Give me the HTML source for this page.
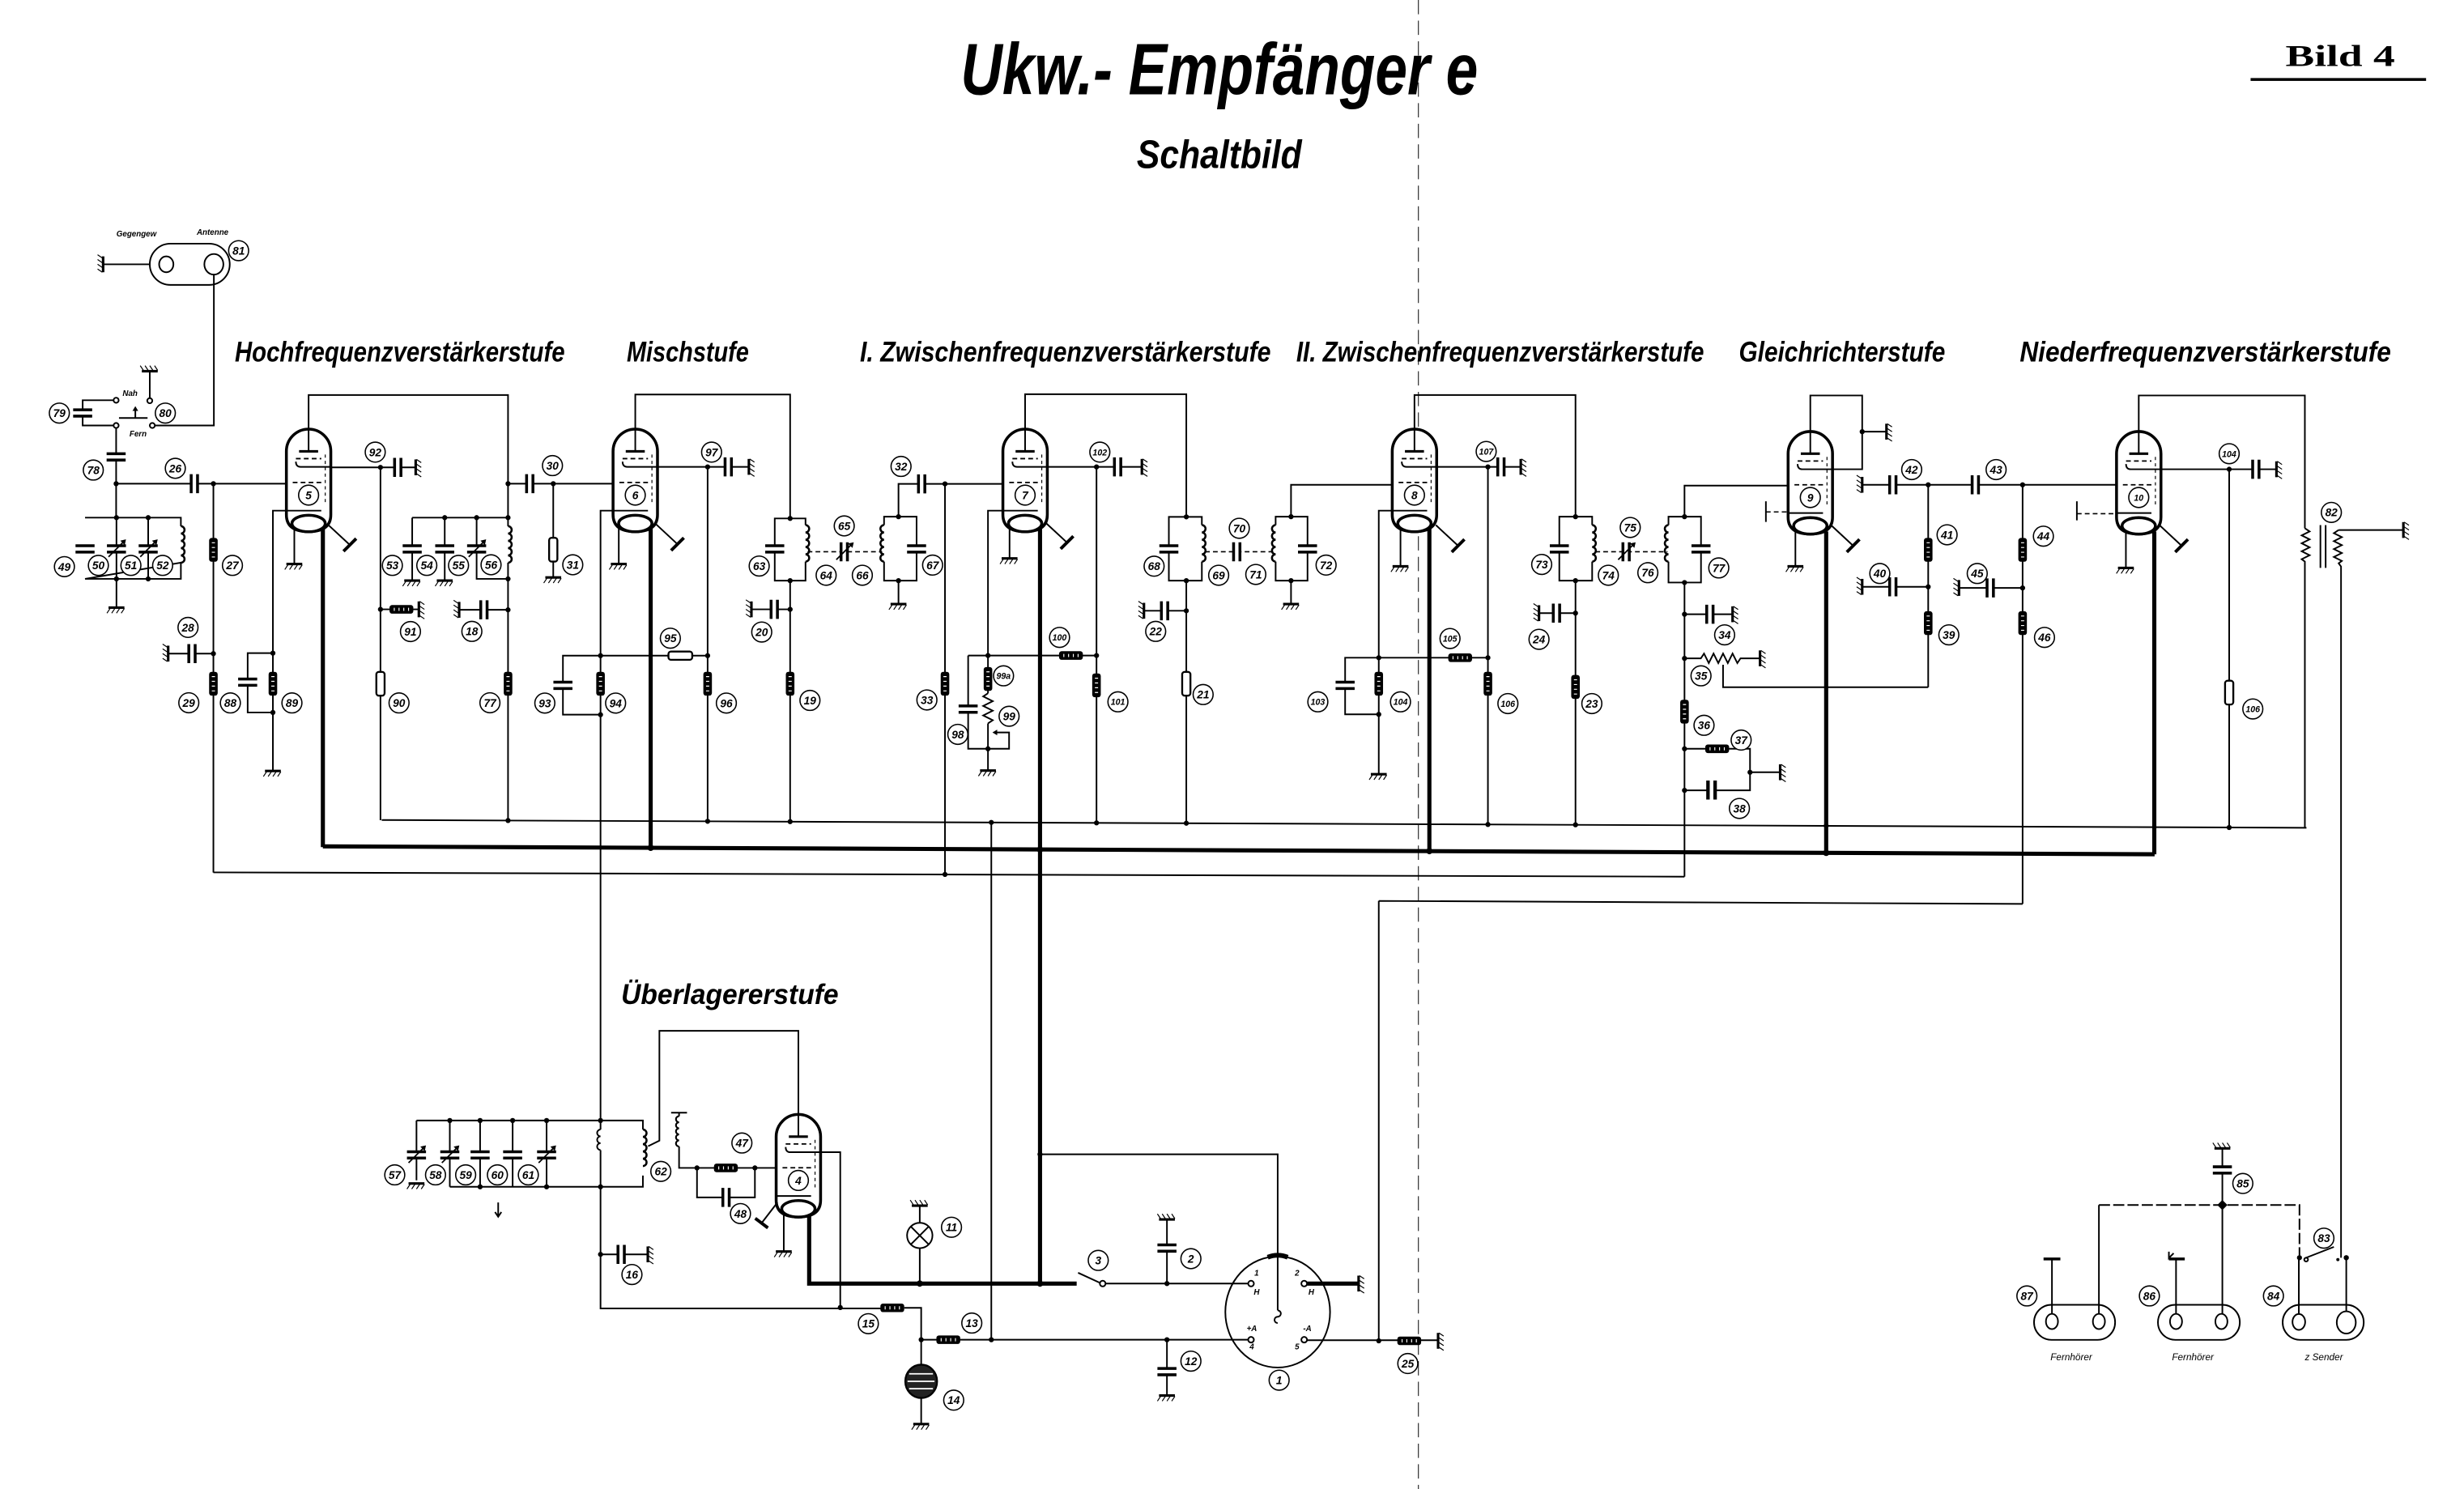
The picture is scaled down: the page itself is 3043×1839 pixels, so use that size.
<!DOCTYPE html>
<html><head><meta charset="utf-8"><title>Ukw.-Empfänger e – Schaltbild</title>
<style>
html,body{margin:0;padding:0;background:#fff;overflow:hidden}
svg{display:block}
.w{fill:none;stroke:#000;stroke-width:1}
.t{fill:none;stroke:#000;stroke-width:2.6}
.o{fill:none;stroke:#000;stroke-width:1.6}
.d{fill:none;stroke:#000;stroke-width:0.8;stroke-dasharray:3 2}
.lc{fill:#fff;stroke:#000;stroke-width:0.8}
.n{font-family:"Liberation Sans",sans-serif;font-style:italic;font-weight:bold;font-size:7px;text-anchor:middle}
.n3{font-family:"Liberation Sans",sans-serif;font-style:italic;font-weight:bold;font-size:5.4px;text-anchor:middle}
.h{font-family:"Liberation Sans Narrow","Liberation Sans",sans-serif;font-style:italic;font-weight:bold;font-size:18px}
.s{font-family:"Liberation Sans",sans-serif;font-style:italic;font-weight:bold;font-size:5px;text-anchor:middle}
.f{font-family:"Liberation Sans",sans-serif;font-style:italic;font-size:6px;text-anchor:middle}
</style></head><body>
<svg width="3043" height="1839" viewBox="0 0 1553 938.6" preserveAspectRatio="none">
<defs>
<g id="gd"><line x1="-5" y1="0" x2="5" y2="0" stroke="#000" stroke-width="1.6"/><path d="M-4,0.5 l-2,3 M-1,0.5 l-2,3 M2,0.5 l-2,3 M5,0.5 l-2,3" stroke="#000" stroke-width="0.6" fill="none"/></g>
<g id="rv"><rect x="-2.7" y="-7.5" width="5.4" height="15" rx="1.6" fill="#000"/><path d="M-1,-4.5 h2 M-1,-1.5 h2 M-1,1.5 h2 M-1,4.5 h2" stroke="#fff" stroke-width="0.6"/></g>
<g id="ro"><rect x="-2.6" y="-7.5" width="5.2" height="15" rx="1.6" fill="#fff" stroke="#000" stroke-width="1.2"/></g>
<g id="rh"><rect x="-7.5" y="-2.7" width="15" height="5.4" rx="1.6" fill="#000"/><path d="M-4.5,-1 v2 M-1.5,-1 v2 M1.5,-1 v2 M4.5,-1 v2" stroke="#fff" stroke-width="0.6"/></g>
<g id="cv"><rect x="-6" y="-2.3" width="12" height="4.6" fill="#fff"/><path d="M-6,-2 h12 M-6,2 h12" stroke="#000" stroke-width="1.8"/></g>
<g id="ch"><rect x="-2.3" y="-6" width="4.6" height="12" fill="#fff"/><path d="M-2,-6 v12 M2,-6 v12" stroke="#000" stroke-width="1.8"/></g>
<g id="va"><path d="M-5,5 L5,-5" stroke="#000" stroke-width="0.9"/><path d="M6,-6 l-3.6,0.8 l2.8,2.8z" fill="#000"/></g>
<path id="cr" d="M0,0 a2.3,2.3 0 0 1 0,4.6 a2.3,2.3 0 0 1 0,4.6 a2.3,2.3 0 0 1 0,4.6 a2.3,2.3 0 0 1 0,4.6 a2.3,2.3 0 0 1 0,4.6" fill="none" stroke="#000" stroke-width="1.3"/>
<g id="tube">
 <path d="M-14,14 A14,14 0 0 1 14,14 V54 Q14,64.6 0,64.6 Q-14,64.6 -14,54 Z" fill="#fff" stroke="#000" stroke-width="1.8"/>
 <line x1="0" y1="0" x2="0" y2="14" stroke="#000" stroke-width="1"/>
 <line x1="-6" y1="14" x2="6" y2="14" stroke="#000" stroke-width="1.6"/>
 <line x1="-8" y1="18.6" x2="8" y2="18.6" stroke="#000" stroke-width="0.9" stroke-dasharray="3 2"/>
 <path d="M-8,20.5 Q-8,23.8 -5,23.8 H14" fill="none" stroke="#000" stroke-width="1"/>
 <line x1="-10" y1="33.6" x2="10" y2="33.6" stroke="#000" stroke-width="0.9" stroke-dasharray="3 2"/>
 <line x1="10.5" y1="16" x2="10.5" y2="48" stroke="#000" stroke-width="0.6" stroke-dasharray="2 2"/>
 <circle cx="0" cy="41.6" r="6.3" fill="#fff" stroke="#000" stroke-width="0.8"/>
 <line x1="-14" y1="51.4" x2="8" y2="51.4" stroke="#000" stroke-width="1"/>
 <ellipse cx="0" cy="59.5" rx="10.5" ry="5.2" fill="#fff" stroke="#000" stroke-width="1.8"/>
</g>
<g id="sh"><line x1="0" y1="0" x2="14" y2="13" stroke="#000" stroke-width="1"/><line x1="10" y1="17" x2="18" y2="9" stroke="#000" stroke-width="2"/></g>
</defs>

<!-- fold line -->
<line x1="894" y1="0" x2="894" y2="938.6" stroke="#000" stroke-width="0.5" stroke-dasharray="9 4"/>

<!-- Titles -->
<text x="768.5" y="59.5" font-family="Liberation Sans Narrow, Liberation Sans, sans-serif" font-style="italic" font-weight="bold" font-size="46" text-anchor="middle" textLength="326" lengthAdjust="spacingAndGlyphs">Ukw.- Empfänger e</text>
<text x="768.5" y="106" font-family="Liberation Sans Narrow, Liberation Sans, sans-serif" font-style="italic" font-weight="bold" font-size="25" text-anchor="middle" textLength="104" lengthAdjust="spacingAndGlyphs">Schaltbild</text>
<text x="1475" y="41.7" font-family="Liberation Serif, serif" font-weight="bold" font-size="19" text-anchor="middle" textLength="69" lengthAdjust="spacingAndGlyphs">Bild 4</text>
<rect x="1418.5" y="49.2" width="110.6" height="1.8" fill="#000"/>

<!-- stage headings -->
<text class="h" x="148" y="228" textLength="208" lengthAdjust="spacingAndGlyphs">Hochfrequenzverstärkerstufe</text>
<text class="h" x="395" y="228" textLength="77" lengthAdjust="spacingAndGlyphs">Mischstufe</text>
<text class="h" x="542" y="228" textLength="259" lengthAdjust="spacingAndGlyphs">I. Zwischenfrequenzverstärkerstufe</text>
<text class="h" x="817" y="228" textLength="257" lengthAdjust="spacingAndGlyphs">II. Zwischenfrequenzverstärkerstufe</text>
<text class="h" x="1096" y="228" textLength="130" lengthAdjust="spacingAndGlyphs">Gleichrichterstufe</text>
<text class="h" x="1273" y="228" textLength="234" lengthAdjust="spacingAndGlyphs">Niederfrequenzverstärkerstufe</text>
<text class="h" x="391.5" y="633" textLength="137" lengthAdjust="spacingAndGlyphs">Überlagererstufe</text>

<!-- ================= Antenna ================= -->
<rect x="94.4" y="153.6" width="50.4" height="26" rx="13" class="w" stroke-width="1.2"/>
<ellipse cx="104.8" cy="166.6" rx="4.5" ry="5" class="w" stroke-width="1.1"/>
<ellipse cx="134.8" cy="166.6" rx="6" ry="6.5" class="w" stroke-width="1.1"/>
<path class="w" d="M65,166.6 H94.4 M134.8,173.1 V268.2 H97.6"/>
<use href="#gd" transform="translate(65,166.6) rotate(90)"/>
<text class="s" x="86" y="149">Gegengew</text>
<text class="s" x="134" y="148">Antenne</text>
<!-- switch 80 / cap 79 -->
<path class="w" d="M94.4,234 V251"/>
<use href="#gd" transform="translate(94.4,234) scale(1,-1)"/>
<circle cx="73.2" cy="252.3" r="1.6" class="w"/><circle cx="94.4" cy="252.6" r="1.6" class="w"/>
<circle cx="73.2" cy="268.2" r="1.6" class="w"/><circle cx="96" cy="268.2" r="1.6" class="w"/>
<path class="w" d="M75,263.5 H93 M85.3,263.5 V258"/><path d="M85.3,256 l-1.8,3 h3.6z" fill="#000"/>
<path class="w" d="M71.6,252.3 H52.1 V268.2 H71.6"/>
<use href="#cv" x="52.1" y="260.3"/>
<text class="s" x="82" y="249.5">Nah</text>
<text class="s" x="87" y="275">Fern</text>
<!-- cap 78 and grid line -->
<path class="w" d="M73.2,269.8 V326.3 M73.2,304.9 H180.5"/>
<use href="#cv" x="73.2" y="288"/>
<use href="#ch" x="122.5" y="304.9"/>
<!-- tank 49-52 -->
<path class="w" d="M53.6,326.3 H114 V331.7 M114,354.7 V364.9 H53.6 Z M73.4,326.3 V383 M93.4,326.3 V364.9"/>
<use href="#cr" x="114" y="331.7"/>
<use href="#cv" x="53.6" y="346"/>
<use href="#cv" x="73.4" y="346"/><use href="#va" x="73.4" y="346"/>
<use href="#cv" x="93.4" y="346"/><use href="#va" x="93.4" y="346"/>
<use href="#gd" x="73.4" y="383"/>
<!-- 27/28/29 -->
<path class="w" d="M134.5,304.9 V550 M134.5,412 H106"/>
<use href="#rv" x="134.5" y="346.6"/>
<use href="#ch" x="121" y="412"/>
<use href="#gd" transform="translate(106,412) rotate(90)"/>
<use href="#rv" x="134.5" y="431"/>

<!-- ================= Tube 5 ================= -->
<path class="w" d="M194.5,270.5 V249 H320.2 V331.7 M320.2,354.7 V517.2"/>
<use href="#cr" x="320.2" y="331.7"/>
<path class="w" d="M208.5,294.6 H262 M239.8,294.6 V517 M239.8,384.1 H264"/>
<use href="#ch" x="250.7" y="294.6"/>
<use href="#gd" transform="translate(262,294.6) rotate(-90)"/>
<use href="#rh" transform="translate(253,384.1)"/>
<use href="#gd" transform="translate(264,384.1) rotate(-90)"/>
<use href="#ro" x="239.8" y="431"/>
<path class="w" d="M180.5,321.9 H172 V486 M172,411.7 H156.1 V449.1 H172"/>
<use href="#cv" x="156.1" y="430"/>
<use href="#rv" x="172" y="431"/>
<use href="#gd" x="172" y="486"/>
<path class="w" d="M185.5,333 V355.5"/><use href="#gd" x="185.5" y="355.5"/>
<path class="t" d="M203.5,333 V534"/>
<use href="#tube" x="194.5" y="270.5"/>
<use href="#sh" x="206.5" y="330.5"/>
<!-- HF plate tank 53-56 -->
<path class="w" d="M259.8,326.3 H320.2 M259.8,326.3 V366 M280.3,326.3 V366 M300.4,326.3 V364.9 H320.2"/>
<use href="#cv" x="259.8" y="346"/>
<use href="#cv" x="280.3" y="346"/>
<use href="#cv" x="300.4" y="346"/><use href="#va" x="300.4" y="346"/>
<use href="#gd" x="259.8" y="366"/><use href="#gd" x="280.3" y="366"/>
<path class="w" d="M320.2,384.4 H289.4"/>
<use href="#ch" x="305" y="384.4"/>
<use href="#gd" transform="translate(289.4,384.4) rotate(90)"/>
<use href="#rv" x="320.2" y="431"/>
<path class="w" d="M320.2,304.9 H386.4 M348.7,304.9 V364"/>
<use href="#ch" x="333.9" y="304.9"/>
<use href="#ro" x="348.7" y="346.5"/>
<use href="#gd" x="348.7" y="364"/>

<!-- ================= Tube 6 ================= -->
<path class="w" d="M400.4,270.5 V248.7 H498 V326.8"/>
<path class="w" d="M414.4,294.3 H472 M446,294.3 V517.7"/>
<use href="#ch" x="459" y="294.3"/>
<use href="#gd" transform="translate(472,294.3) rotate(-90)"/>
<path class="w" d="M386.4,321.9 H378.5 V706.3 M378.5,413.3 H354.8 V450.5 H378.5 M378.5,413.3 H446"/>
<use href="#cv" x="354.8" y="432"/>
<use href="#rv" x="378.5" y="431"/>
<use href="#ro" transform="translate(428.8,413.3) rotate(90)"/>
<use href="#rv" x="446" y="431"/>
<path class="w" d="M390,333 V355.5"/><use href="#gd" x="390" y="355.5"/>
<path class="t" d="M410.1,333 V534.4"/>
<use href="#tube" x="400.4" y="270.5"/>
<use href="#sh" x="413" y="330"/>
<!-- tank 63/64 -->
<path class="w" d="M498,326.8 H507.7 V331 M507.7,354 V366 H488.3 V326.8 H498 M498,366 V517.9 M498,384.1 H473.6"/>
<use href="#cr" x="507.7" y="331"/>
<use href="#cv" x="488.3" y="346"/>
<use href="#ch" x="488" y="384.1"/>
<use href="#gd" transform="translate(473.6,384.1) rotate(90)"/>
<use href="#rv" x="498" y="431"/>
<path class="d" d="M509,347.8 H556"/>
<use href="#ch" x="532.1" y="347.8"/><use href="#va" x="532.1" y="347.8"/>
<!-- tank 66/67 -->
<path class="w" d="M557.2,331 V325.7 H577.7 V366 H557.2 V354 M566.3,366 V380.8"/>
<use href="#cr" transform="translate(557.2,331) scale(-1,1)"/>
<use href="#cv" x="577.7" y="346"/>
<use href="#gd" x="566.3" y="380.8"/>
<path class="w" d="M566.3,325.7 V305 H632 M595.6,305 V551.2"/>
<use href="#ch" x="580.9" y="305"/>
<use href="#rv" x="595.6" y="431"/>

<!-- ================= Tube 7 ================= -->
<path class="w" d="M646.1,270.5 V248.5 H747.7 V325.8"/>
<path class="w" d="M660.1,294.3 H719.7 M691.1,294.3 V518.7"/>
<use href="#ch" x="704.4" y="294.3"/>
<use href="#gd" transform="translate(719.7,294.3) rotate(-90)"/>
<use href="#rv" x="691.1" y="432"/>
<path class="w" d="M632.1,321.9 H622.7 V437 M622.7,456 V485.7 M610.2,413.2 H691.1 M610.2,413.2 V472 H636 V461.7 H628"/>
<path class="w" d="M622.7,437 l-3,2 l6,3 l-6,3 l6,3 l-6,3 l6,3 l-3,2"/>
<path d="M625.5,461.7 l3,-1.8 v3.6z" fill="#000"/>
<use href="#cv" x="610.2" y="447"/>
<use href="#rv" x="622.7" y="428"/>
<use href="#rh" x="675" y="413.2"/>
<use href="#gd" x="622.7" y="485.7"/>
<path class="w" d="M636.3,333 V352"/><use href="#gd" x="636.3" y="352"/>
<path class="t" d="M655.5,333 V809.1"/>
<use href="#tube" x="646.1" y="270.5"/>
<use href="#sh" x="658.5" y="329"/>
<!-- tank 68/69 -->
<path class="w" d="M747.7,325.8 H757.5 V331 M757.5,354 V366 H736.7 V325.8 H747.7 M747.7,366 V518.9 M747.7,385 H721"/>
<use href="#cr" x="757.5" y="331"/>
<use href="#cv" x="736.7" y="346"/>
<use href="#ch" x="734" y="385"/>
<use href="#gd" transform="translate(721,385) rotate(90)"/>
<use href="#ro" x="747.7" y="431"/>
<path class="d" d="M759.5,347.8 H803"/>
<use href="#ch" x="779.5" y="347.8"/>
<!-- tank 71/72 -->
<path class="w" d="M804,331 V325.7 H824.1 V366 H804 V354 M813.7,366 V380.8 M813.7,325.7 V305.6 H877.5"/>
<use href="#cr" transform="translate(804,331) scale(-1,1)"/>
<use href="#cv" x="824.1" y="346"/>
<use href="#gd" x="813.7" y="380.8"/>

<!-- ================= Tube 8 ================= -->
<path class="w" d="M891.5,270.5 V249 H993 V325.7"/>
<path class="w" d="M905.5,294.3 H958.5 M937.8,294.3 V519.7"/>
<use href="#ch" x="946" y="294.3"/>
<use href="#gd" transform="translate(958.5,294.3) rotate(-90)"/>
<path class="w" d="M877.5,321.9 H869 V488 M869,414.6 H847.8 V450.3 H869 M869,414.6 H937.8"/>
<use href="#cv" x="847.8" y="432"/>
<use href="#rv" x="869" y="431"/>
<use href="#rh" x="920.3" y="414.6"/>
<use href="#rv" x="937.8" y="431"/>
<use href="#gd" x="869" y="488"/>
<path class="w" d="M882.7,333 V357"/><use href="#gd" x="882.7" y="357"/>
<path class="t" d="M900.9,333 V536.5"/>
<use href="#tube" x="891.5" y="270.5"/>
<use href="#sh" x="905" y="331"/>
<!-- tank 73/74 -->
<path class="w" d="M993,325.7 H1003.5 V331 M1003.5,354 V366 H982.8 V325.7 H993 M993,366 V519.9 M993,386.5 H970"/>
<use href="#cr" x="1003.5" y="331"/>
<use href="#cv" x="982.8" y="346"/>
<use href="#ch" x="981" y="386.5"/>
<use href="#gd" transform="translate(970,386.5) rotate(90)"/>
<use href="#rv" x="993" y="433"/>
<path class="d" d="M1005.5,347.8 H1051"/>
<use href="#ch" x="1024.9" y="347.8"/><use href="#va" x="1024.9" y="347.8"/>
<!-- tank 76/77 -->
<path class="w" d="M1051.6,331 V325.7 H1072.1 V367.2 H1051.6 V354 M1061.7,325.7 V306.1 H1127 M1061.7,367.2 V552.6"/>
<use href="#cr" transform="translate(1051.6,331) scale(-1,1)"/>
<use href="#cv" x="1072.1" y="346"/>
<path class="w" d="M1061.7,387.2 H1092"/>
<use href="#ch" x="1077.7" y="387.2"/>
<use href="#gd" transform="translate(1092,387.2) rotate(-90)"/>
<path class="w" d="M1061.7,415 H1072 l2,-3 l3,6 l3,-6 l3,6 l3,-6 l3,6 l3,-6 l3,6 l2,-3 H1109.3 M1086,419 V433.2 H1215.3"/>
<use href="#gd" transform="translate(1109.3,415) rotate(-90)"/>
<use href="#rv" x="1061.7" y="448.6"/>
<path class="w" d="M1061.7,472 H1103 V498.2 H1061.7 M1103,486.8 H1122"/>
<use href="#rh" x="1082.3" y="472"/>
<use href="#gd" transform="translate(1122,486.8) rotate(-90)"/>
<rect x="1076" y="492" width="6" height="12" fill="#fff"/>
<path d="M1076.5,492 v12 M1081,492 v12" stroke="#000" stroke-width="2.2"/>

<!-- ================= Tube 9 ================= -->
<path class="w" d="M1141,272 V249.3 H1173.7 V295.8 H1155 M1173.7,272.1 H1189"/>
<use href="#gd" transform="translate(1189,272.1) rotate(-90)"/>
<path class="d" d="M1113,322.7 H1127"/><path class="w" d="M1113,316 V329" stroke-width="1.6"/>
<path class="w" d="M1131.6,335 V357"/><use href="#gd" x="1131.6" y="357"/>
<path class="t" d="M1151,335 V537.6"/>
<use href="#tube" x="1141" y="272"/>
<use href="#sh" x="1154" y="331"/>
<path class="w" d="M1173.7,305.6 H1336"/>
<use href="#gd" transform="translate(1173.7,305.6) rotate(90)"/>
<use href="#ch" x="1193" y="305.6"/>
<use href="#ch" x="1245" y="305.6"/>
<path class="w" d="M1215.3,305.6 V433.2 M1215.3,369.9 H1173.7"/>
<use href="#rv" x="1215.3" y="346.6"/>
<use href="#ch" x="1193" y="369.9"/>
<use href="#gd" transform="translate(1173.7,369.9) rotate(90)"/>
<use href="#rv" x="1215.3" y="392.8"/>
<path class="w" d="M1274.8,305.6 V569.8 M1274.8,370.6 H1234.7"/>
<use href="#rv" x="1274.8" y="346.6"/>
<use href="#ch" x="1254.4" y="370.6"/>
<use href="#gd" transform="translate(1234.7,370.6) rotate(90)"/>
<use href="#rv" x="1274.8" y="392.8"/>

<!-- ================= Tube 10 ================= -->
<path class="w" d="M1348,272 V249.3 H1452.7 V333"/>
<path class="w" d="M1362,295.8 H1434.8 M1405,295.8 V521.6"/>
<use href="#ch" x="1421.8" y="295.8"/>
<use href="#gd" transform="translate(1434.8,295.8) rotate(-90)"/>
<use href="#ro" x="1405" y="436.6"/>
<path class="d" d="M1309,323.8 H1334"/><path class="w" d="M1309,316 V328" stroke-width="1.6"/>
<path class="w" d="M1339.9,335 V358"/><use href="#gd" x="1339.9" y="358"/>
<path class="t" d="M1357.8,335 V538.5"/>
<use href="#tube" x="1348" y="272"/>
<use href="#sh" x="1361" y="331"/>
<!-- transformer 82 -->
<path class="w" stroke-width="1.2" d="M1452.7,333 l3,2 l-5,2.5 l5,2.5 l-5,2.5 l5,2.5 l-5,2.5 l5,2.5 l-5,2.5 l2,1.5 V522"/>
<path class="w" stroke-width="1.1" d="M1462.5,331 V358 M1465.8,331 V358"/>
<path class="w" stroke-width="1.2" d="M1474,334.1 l-3,2 l5,2.5 l-5,2.5 l5,2.5 l-5,2.5 l5,2.5 l-5,2.5 l5,2.5 l-2,1.5 l1.5,2 V792.8"/>
<path class="w" d="M1474,334.1 H1514.8"/>
<use href="#gd" transform="translate(1514.8,334.1) rotate(-90)"/>

<!-- ================= Bus lines ================= -->
<path class="w" d="M240.6,516.9 L1453.7,521.8"/>
<path class="t" d="M203.5,533.5 L1358,538.5"/>
<path class="w" d="M134.5,549.9 L1061.7,552.6"/>
<path class="w" d="M869,567.9 L1274.8,569.8 M869,567.9 V845.4"/>
<path class="w" d="M624.8,518.4 V844.5"/>

<!-- ================= Überlagerer ================= -->
<!-- LC bank -->
<path class="w" d="M262.5,706.3 H405.2 V712 M405.2,741 V748.1 H283.5 M262.5,706.3 V744 M283.5,706.3 V748.1 M302.6,706.3 V748.1 M323.1,706.3 V748.1 M344.5,706.3 V748.1 M378.5,706.3 V712 M378.5,725 V824.8 H555"/>
<use href="#cr" x="405.2" y="712"/>
<path class="w" stroke-width="1.3" d="M378.5,712 a2,2 0 0 0 0,4.3 a2,2 0 0 0 0,4.3 a2,2 0 0 0 0,4.3"/>
<use href="#cv" x="262.5" y="728"/><use href="#va" x="262.5" y="728"/>
<use href="#cv" x="283.5" y="728"/><use href="#va" x="283.5" y="728"/>
<use href="#cv" x="302.6" y="728"/>
<use href="#cv" x="323.1" y="728"/>
<use href="#cv" x="344.5" y="728"/><use href="#va" x="344.5" y="728"/>
<use href="#gd" x="262.5" y="746"/>
<path class="w" d="M314,758 v8 M312,764 l2,3 l2,-3" stroke-width="0.8"/>
<path class="w" d="M378.5,790.7 H408.3"/>
<use href="#ch" x="391.5" y="790.7"/>
<use href="#gd" transform="translate(408.3,790.7) rotate(-90)"/>
<!-- tube 4 -->
<path class="w" d="M503.2,702.5 V649.8 H415.6 V719 L408.5,722.5"/>
<path class="w" d="M517.2,726.3 H529.6 V824 M489.2,736.2 H428 V722.7 M428,703.6 V701.4 M423,701.4 H433 M439.3,736.2 V754.8 H475.8 V736.2"/>
<use href="#cr" transform="translate(428,703.6) scale(-0.85,0.83)"/>
<use href="#rh" x="457.5" y="736.2"/>
<use href="#ch" x="457.6" y="754.8"/>
<path class="w" d="M494,765 V788.9"/><use href="#gd" x="494" y="788.9"/>
<path class="t" d="M510,765 V809.1 H678.6"/>
<use href="#tube" x="503.2" y="702.5"/>
<path class="w" d="M490,758 L480,771"/><path d="M476,768 L484,774" stroke="#000" stroke-width="2"/>
<!-- resistor 15, 13 chain -->
<use href="#rh" x="562.4" y="824.4"/>
<path class="w" d="M569.9,824.4 H580.6 V897.7 M580.6,844.5 H787"/>
<use href="#rh" x="597.7" y="844.5"/>
<ellipse cx="580.6" cy="870.7" rx="10" ry="10.5" fill="#222" stroke="#000" stroke-width="1.2"/>
<path d="M573,866 H588 M572,870.7 H589 M573,875.4 H588" stroke="#fff" stroke-width="0.9"/>
<use href="#gd" x="580.6" y="897.7"/>
<!-- lamp 11 -->
<path class="w" d="M579.7,809.1 V786.8 M579.7,770.8 V760"/>
<circle cx="579.7" cy="778.8" r="8" class="w" stroke-width="1.2"/>
<path class="w" d="M574,773.1 L585.4,784.5 M585.4,773.1 L574,784.5"/>
<use href="#gd" transform="translate(579.7,760) scale(1,-1)"/>
<!-- switch 3 -->
<path class="w" stroke-width="1.3" d="M679.5,802.3 L693,808.5"/>
<circle cx="695" cy="809.1" r="1.8" class="w"/>
<path class="w" d="M696.8,809.1 H787"/>
<path class="w" d="M735.5,809.1 V768.7 M735.5,844.5 V879.7"/>
<use href="#cv" x="735.5" y="786.7"/>
<use href="#gd" transform="translate(735.5,768.7) scale(1,-1)"/>
<use href="#cv" x="735.5" y="864.6"/>
<use href="#gd" x="735.5" y="879.7"/>
<!-- socket 1 -->
<path class="w" d="M655.5,727.6 H805.3 V792"/>
<ellipse cx="805.3" cy="827" rx="33" ry="35" class="w" stroke-width="1.6"/>
<path d="M799,792.5 Q805.3,790 811.6,792.5" stroke="#000" stroke-width="3" fill="none"/>
<circle cx="788.5" cy="809.1" r="1.8" class="w"/><circle cx="822" cy="809.1" r="1.8" class="w"/>
<circle cx="788.5" cy="844.5" r="1.8" class="w"/><circle cx="822" cy="844.5" r="1.8" class="w"/>
<path class="w" d="M805.3,792 V826 M805.3,826 a2,2 0 1 1 0,4 a2,2 0 1 0 0,4"/>
<text class="s" x="792" y="804">1</text><text class="s" x="792" y="816">H</text>
<text class="s" x="817.5" y="804">2</text><text class="s" x="826.5" y="816">H</text>
<text class="s" x="789" y="839">+A</text><text class="s" x="789" y="850.5">4</text>
<text class="s" x="824" y="839">-A</text><text class="s" x="817.5" y="850.5">5</text>
<path class="t" d="M823.8,809.1 H856.3"/>
<use href="#gd" transform="translate(856.3,809.1) rotate(-90)"/>
<path class="w" d="M823.8,844.8 H906.4"/>
<use href="#rh" x="888.2" y="845.2"/>
<use href="#gd" transform="translate(906.4,845.2) rotate(-90)"/>

<!-- ================= Jacks bottom right ================= -->
<rect x="1282" y="822.5" width="51.1" height="22.1" rx="11" class="w" stroke-width="1.1"/>
<ellipse cx="1293.3" cy="833" rx="3.8" ry="4.8" class="w" stroke-width="1.1"/>
<ellipse cx="1322.9" cy="833" rx="3.8" ry="4.8" class="w" stroke-width="1.1"/>
<rect x="1360.1" y="822.5" width="51.6" height="22.1" rx="11" class="w" stroke-width="1.1"/>
<ellipse cx="1371.5" cy="833" rx="3.8" ry="4.8" class="w" stroke-width="1.1"/>
<ellipse cx="1400.1" cy="833" rx="3.8" ry="4.8" class="w" stroke-width="1.1"/>
<rect x="1438.7" y="822.5" width="51.1" height="22.1" rx="11" class="w" stroke-width="1.1"/>
<ellipse cx="1448.9" cy="833.3" rx="4" ry="5" class="w" stroke-width="1.1"/>
<ellipse cx="1478.8" cy="833.6" rx="6" ry="7" class="w" stroke-width="1.1"/>
<path class="w" d="M1293.3,828.2 V793.6 M1293.3,822.5 H1322.9 M1322.9,828.2 V759.6 M1371.5,828.2 V793.6 M1371.5,822.5 H1400.1 M1400.7,828.2 V723.9 M1448.9,828.3 V792.8 M1478.8,826.6 V792.8"/>
<path d="M1288,793.6 H1298.6 M1367,793.6 H1377" stroke="#000" stroke-width="1.8"/>
<path class="w" d="M1367,789 v4 l3,-3" stroke-width="1.2"/>
<path class="w" stroke-dasharray="7 2" d="M1322.9,759.6 H1449.3 V792.8"/>
<path d="M1400.7,756.4 l3.2,3.2 l-3.2,3.2 l-3.2,-3.2z" fill="#000"/>
<use href="#cv" x="1400.7" y="737.5"/>
<use href="#gd" transform="translate(1400.7,723.9) scale(1,-1)"/>
<circle cx="1449.3" cy="792.8" r="1.6" fill="#000"/><circle cx="1478.8" cy="792.8" r="1.6" fill="#000"/>
<path class="w" stroke-width="1.4" d="M1453,793 L1471,786"/>
<circle cx="1453.5" cy="794" r="1.2" class="w"/><circle cx="1473.5" cy="794" r="1" fill="#000"/>
<text class="f" x="1305.5" y="857.5">Fernhörer</text>
<text class="f" x="1382.1" y="857.5">Fernhörer</text>
<text class="f" x="1464.7" y="857.5">z Sender</text>

<!-- ================= Node dots ================= -->
<g fill="#000">
<circle cx="73.2" cy="304.9" r="1.6"/><circle cx="134.5" cy="304.9" r="1.6"/>
<circle cx="73.4" cy="326.3" r="1.6"/><circle cx="93.4" cy="326.3" r="1.6"/><circle cx="73.4" cy="364.9" r="1.6"/><circle cx="93.4" cy="364.9" r="1.6"/>
<circle cx="134.5" cy="412" r="1.6"/><circle cx="172" cy="411.7" r="1.6"/><circle cx="172" cy="449.1" r="1.6"/>
<circle cx="239.8" cy="294.6" r="1.6"/><circle cx="239.8" cy="384.1" r="1.6"/>
<circle cx="280.3" cy="326.3" r="1.6"/><circle cx="300.4" cy="326.3" r="1.6"/><circle cx="320.2" cy="326.3" r="1.6"/><circle cx="320.2" cy="364.9" r="1.6"/><circle cx="320.2" cy="384.4" r="1.6"/>
<circle cx="320.2" cy="304.9" r="1.6"/><circle cx="348.7" cy="304.9" r="1.6"/>
<circle cx="446" cy="294.3" r="1.6"/><circle cx="378.5" cy="413.3" r="1.6"/><circle cx="378.5" cy="450.5" r="1.6"/><circle cx="446" cy="413.3" r="1.6"/>
<circle cx="498" cy="326.8" r="1.6"/><circle cx="498" cy="366" r="1.6"/><circle cx="498" cy="384.1" r="1.6"/>
<circle cx="566.3" cy="325.7" r="1.6"/><circle cx="566.3" cy="366" r="1.6"/><circle cx="595.6" cy="305" r="1.6"/>
<circle cx="691.1" cy="294.3" r="1.6"/><circle cx="691.1" cy="413.2" r="1.6"/><circle cx="622.7" cy="413.2" r="1.6"/><circle cx="622.7" cy="472" r="1.6"/>
<circle cx="747.7" cy="325.8" r="1.6"/><circle cx="747.7" cy="366" r="1.6"/><circle cx="747.7" cy="385" r="1.6"/>
<circle cx="813.7" cy="325.7" r="1.6"/><circle cx="813.7" cy="366" r="1.6"/>
<circle cx="937.8" cy="294.3" r="1.6"/><circle cx="937.8" cy="414.6" r="1.6"/><circle cx="869" cy="414.6" r="1.6"/><circle cx="869" cy="450.3" r="1.6"/>
<circle cx="993" cy="325.7" r="1.6"/><circle cx="993" cy="366" r="1.6"/><circle cx="993" cy="386.5" r="1.6"/>
<circle cx="1061.7" cy="325.7" r="1.6"/><circle cx="1061.7" cy="367.2" r="1.6"/><circle cx="1061.7" cy="387.2" r="1.6"/><circle cx="1061.7" cy="415" r="1.6"/><circle cx="1061.7" cy="472" r="1.6"/><circle cx="1061.7" cy="498.2" r="1.6"/><circle cx="1103" cy="486.8" r="1.6"/>
<circle cx="1173.7" cy="272.1" r="1.6"/><circle cx="1215.3" cy="305.6" r="1.6"/><circle cx="1274.8" cy="305.6" r="1.6"/><circle cx="1215.3" cy="369.9" r="1.6"/><circle cx="1274.8" cy="370.6" r="1.6"/>
<circle cx="1405" cy="295.8" r="1.6"/><circle cx="1405" cy="521.6" r="1.6"/>
<circle cx="320.2" cy="517.2" r="1.6"/><circle cx="446" cy="517.7" r="1.6"/><circle cx="498" cy="517.9" r="1.6"/><circle cx="624.8" cy="518.4" r="1.6"/><circle cx="691.1" cy="518.7" r="1.6"/><circle cx="747.7" cy="518.9" r="1.6"/><circle cx="937.8" cy="519.7" r="1.6"/><circle cx="993" cy="519.9" r="1.6"/><circle cx="1151" cy="520.6" r="1.6"/>
<circle cx="410.1" cy="534.4" r="2"/><circle cx="655.5" cy="535.5" r="2"/><circle cx="900.9" cy="536.5" r="2"/><circle cx="1151" cy="537.6" r="2"/>
<circle cx="595.6" cy="551.2" r="1.6"/>
<circle cx="378.5" cy="706.3" r="1.6"/><circle cx="283.5" cy="706.3" r="1.6"/><circle cx="302.6" cy="706.3" r="1.6"/><circle cx="323.1" cy="706.3" r="1.6"/><circle cx="344.5" cy="706.3" r="1.6"/>
<circle cx="302.6" cy="748.1" r="1.6"/><circle cx="344.5" cy="748.1" r="1.6"/><circle cx="378.5" cy="748.1" r="1.6"/><circle cx="378.5" cy="790.7" r="1.6"/>
<circle cx="439.3" cy="736.2" r="1.6"/><circle cx="475.8" cy="736.2" r="1.6"/>
<circle cx="529.6" cy="824.2" r="1.6"/><circle cx="580.6" cy="844.5" r="1.6"/><circle cx="624.8" cy="844.5" r="1.6"/><circle cx="735.5" cy="844.5" r="1.6"/>
<circle cx="579.7" cy="809.1" r="2"/><circle cx="655.5" cy="809.1" r="2"/><circle cx="655.5" cy="727.6" r="1.6"/><circle cx="735.5" cy="809.1" r="1.6"/>
<circle cx="869" cy="845.2" r="1.6"/><circle cx="1478.8" cy="792.8" r="1.6"/>
</g>

<!-- ================= tube numbers ================= -->
<text class="n" x="194.5" y="314.6">5</text>
<text class="n" x="400.4" y="314.6">6</text>
<text class="n" x="646.1" y="314.6">7</text>
<text class="n" x="891.5" y="314.6">8</text>
<text class="n" x="1141" y="316.1">9</text>
<text class="n3" x="1348" y="315.8">10</text>
<text class="n" x="503.2" y="746.6">4</text>

<!-- ================= circled labels ================= -->
<g>
<circle class="lc" cx="150.4" cy="158" r="6.3"/><text class="n" x="150.4" y="160.5">81</text>
<circle class="lc" cx="37.4" cy="260.4" r="6.3"/><text class="n" x="37.4" y="262.9">79</text>
<circle class="lc" cx="104.2" cy="260.4" r="6.3"/><text class="n" x="104.2" y="262.9">80</text>
<circle class="lc" cx="58.8" cy="296.3" r="6.3"/><text class="n" x="58.8" y="298.8">78</text>
<circle class="lc" cx="110.5" cy="295.2" r="6.3"/><text class="n" x="110.5" y="297.7">26</text>
<circle class="lc" cx="40.6" cy="357.2" r="6.3"/><text class="n" x="40.6" y="359.7">49</text>
<circle class="lc" cx="62" cy="356.4" r="6.3"/><text class="n" x="62" y="358.9">50</text>
<circle class="lc" cx="82.5" cy="356.4" r="6.3"/><text class="n" x="82.5" y="358.9">51</text>
<circle class="lc" cx="102.5" cy="356.4" r="6.3"/><text class="n" x="102.5" y="358.9">52</text>
<circle class="lc" cx="146.5" cy="356.4" r="6.3"/><text class="n" x="146.5" y="358.9">27</text>
<circle class="lc" cx="118.5" cy="395.5" r="6.3"/><text class="n" x="118.5" y="398">28</text>
<circle class="lc" cx="119" cy="443" r="6.3"/><text class="n" x="119" y="445.5">29</text>
<circle class="lc" cx="145.2" cy="443.1" r="6.3"/><text class="n" x="145.2" y="445.6">88</text>
<circle class="lc" cx="184" cy="443.1" r="6.3"/><text class="n" x="184" y="445.6">89</text>
<circle class="lc" cx="236.5" cy="285" r="6.3"/><text class="n" x="236.5" y="287.5">92</text>
<circle class="lc" cx="258.7" cy="398.1" r="6.3"/><text class="n" x="258.7" y="400.6">91</text>
<circle class="lc" cx="251.5" cy="443.1" r="6.3"/><text class="n" x="251.5" y="445.6">90</text>
<circle class="lc" cx="247.3" cy="356.4" r="6.3"/><text class="n" x="247.3" y="358.9">53</text>
<circle class="lc" cx="269" cy="356.4" r="6.3"/><text class="n" x="269" y="358.9">54</text>
<circle class="lc" cx="289" cy="356.4" r="6.3"/><text class="n" x="289" y="358.9">55</text>
<circle class="lc" cx="309.5" cy="356" r="6.3"/><text class="n" x="309.5" y="358.5">56</text>
<circle class="lc" cx="297.4" cy="398" r="6.3"/><text class="n" x="297.4" y="400.5">18</text>
<circle class="lc" cx="308.8" cy="443" r="6.3"/><text class="n" x="308.8" y="445.5">77</text>
<circle class="lc" cx="348.2" cy="293.5" r="6.3"/><text class="n" x="348.2" y="296">30</text>
<circle class="lc" cx="361" cy="356" r="6.3"/><text class="n" x="361" y="358.5">31</text>
<circle class="lc" cx="448.5" cy="285" r="6.3"/><text class="n" x="448.5" y="287.5">97</text>
<circle class="lc" cx="343.4" cy="443.2" r="6.3"/><text class="n" x="343.4" y="445.7">93</text>
<circle class="lc" cx="388" cy="443.2" r="6.3"/><text class="n" x="388" y="445.7">94</text>
<circle class="lc" cx="422.5" cy="402.3" r="6.3"/><text class="n" x="422.5" y="404.8">95</text>
<circle class="lc" cx="457.8" cy="443.2" r="6.3"/><text class="n" x="457.8" y="445.7">96</text>
<circle class="lc" cx="478.5" cy="356.8" r="6.3"/><text class="n" x="478.5" y="359.3">63</text>
<circle class="lc" cx="520.7" cy="362.6" r="6.3"/><text class="n" x="520.7" y="365.1">64</text>
<circle class="lc" cx="532.1" cy="331.5" r="6.3"/><text class="n" x="532.1" y="334">65</text>
<circle class="lc" cx="543.5" cy="362.6" r="6.3"/><text class="n" x="543.5" y="365.1">66</text>
<circle class="lc" cx="587.8" cy="356.2" r="6.3"/><text class="n" x="587.8" y="358.7">67</text>
<circle class="lc" cx="480.1" cy="398.4" r="6.3"/><text class="n" x="480.1" y="400.9">20</text>
<circle class="lc" cx="510.5" cy="441.5" r="6.3"/><text class="n" x="510.5" y="444">19</text>
<circle class="lc" cx="567.9" cy="294" r="6.3"/><text class="n" x="567.9" y="296.5">32</text>
<circle class="lc" cx="584.2" cy="441.2" r="6.3"/><text class="n" x="584.2" y="443.7">33</text>
<circle class="lc" cx="693.2" cy="285" r="6.3"/><text class="n3" x="693.2" y="287">102</text>
<circle class="lc" cx="667.8" cy="401.8" r="6.3"/><text class="n3" x="667.8" y="403.8">100</text>
<circle class="lc" cx="632.5" cy="426" r="6.3"/><text class="n3" x="632.5" y="428">99a</text>
<circle class="lc" cx="636" cy="451.5" r="6.3"/><text class="n" x="636" y="454">99</text>
<circle class="lc" cx="603.7" cy="462.9" r="6.3"/><text class="n" x="603.7" y="465.4">98</text>
<circle class="lc" cx="704.6" cy="442.4" r="6.3"/><text class="n3" x="704.6" y="444.4">101</text>
<circle class="lc" cx="727.4" cy="356.9" r="6.3"/><text class="n" x="727.4" y="359.4">68</text>
<circle class="lc" cx="768.1" cy="362.6" r="6.3"/><text class="n" x="768.1" y="365.1">69</text>
<circle class="lc" cx="781.1" cy="333" r="6.3"/><text class="n" x="781.1" y="335.5">70</text>
<circle class="lc" cx="791.5" cy="362.1" r="6.3"/><text class="n" x="791.5" y="364.6">71</text>
<circle class="lc" cx="835.8" cy="356.2" r="6.3"/><text class="n" x="835.8" y="358.7">72</text>
<circle class="lc" cx="728.4" cy="398" r="6.3"/><text class="n" x="728.4" y="400.5">22</text>
<circle class="lc" cx="758.3" cy="437.8" r="6.3"/><text class="n" x="758.3" y="440.3">21</text>
<circle class="lc" cx="936.7" cy="284.6" r="6.3"/><text class="n3" x="936.7" y="286.6">107</text>
<circle class="lc" cx="830.6" cy="442.4" r="6.3"/><text class="n3" x="830.6" y="444.4">103</text>
<circle class="lc" cx="882.7" cy="442.4" r="6.3"/><text class="n3" x="882.7" y="444.4">104</text>
<circle class="lc" cx="913.9" cy="402.5" r="6.3"/><text class="n3" x="913.9" y="404.5">105</text>
<circle class="lc" cx="950.4" cy="443.5" r="6.3"/><text class="n3" x="950.4" y="445.5">106</text>
<circle class="lc" cx="971.7" cy="355.8" r="6.3"/><text class="n" x="971.7" y="358.3">73</text>
<circle class="lc" cx="1013.7" cy="362.6" r="6.3"/><text class="n" x="1013.7" y="365.1">74</text>
<circle class="lc" cx="1027.5" cy="332.5" r="6.3"/><text class="n" x="1027.5" y="335">75</text>
<circle class="lc" cx="1038.6" cy="361" r="6.3"/><text class="n" x="1038.6" y="363.5">76</text>
<circle class="lc" cx="1083.3" cy="358" r="6.3"/><text class="n" x="1083.3" y="360.5">77</text>
<circle class="lc" cx="970" cy="403" r="6.3"/><text class="n" x="970" y="405.5">24</text>
<circle class="lc" cx="1003.3" cy="443.5" r="6.3"/><text class="n" x="1003.3" y="446">23</text>
<circle class="lc" cx="1087" cy="400.2" r="6.3"/><text class="n" x="1087" y="402.7">34</text>
<circle class="lc" cx="1072.1" cy="426" r="6.3"/><text class="n" x="1072.1" y="428.5">35</text>
<circle class="lc" cx="1074" cy="457.2" r="6.3"/><text class="n" x="1074" y="459.7">36</text>
<circle class="lc" cx="1097.4" cy="466.5" r="6.3"/><text class="n" x="1097.4" y="469">37</text>
<circle class="lc" cx="1096.3" cy="509.6" r="6.3"/><text class="n" x="1096.3" y="512.1">38</text>
<circle class="lc" cx="1204.9" cy="296" r="6.3"/><text class="n" x="1204.9" y="298.5">42</text>
<circle class="lc" cx="1258.1" cy="296" r="6.3"/><text class="n" x="1258.1" y="298.5">43</text>
<circle class="lc" cx="1227.2" cy="337.1" r="6.3"/><text class="n" x="1227.2" y="339.6">41</text>
<circle class="lc" cx="1184.8" cy="361.5" r="6.3"/><text class="n" x="1184.8" y="364">40</text>
<circle class="lc" cx="1228.3" cy="400.2" r="6.3"/><text class="n" x="1228.3" y="402.7">39</text>
<circle class="lc" cx="1287.9" cy="338" r="6.3"/><text class="n" x="1287.9" y="340.5">44</text>
<circle class="lc" cx="1246.2" cy="361.5" r="6.3"/><text class="n" x="1246.2" y="364">45</text>
<circle class="lc" cx="1288.6" cy="401.8" r="6.3"/><text class="n" x="1288.6" y="404.3">46</text>
<circle class="lc" cx="1405" cy="286" r="6.3"/><text class="n3" x="1405" y="288">104</text>
<circle class="lc" cx="1419.9" cy="446.9" r="6.3"/><text class="n3" x="1419.9" y="448.9">106</text>
<circle class="lc" cx="1469.4" cy="323" r="6.3"/><text class="n" x="1469.4" y="325.5">82</text>
<circle class="lc" cx="248.8" cy="740.6" r="6.3"/><text class="n" x="248.8" y="743.1">57</text>
<circle class="lc" cx="274.5" cy="740.6" r="6.3"/><text class="n" x="274.5" y="743.1">58</text>
<circle class="lc" cx="293.5" cy="740.6" r="6.3"/><text class="n" x="293.5" y="743.1">59</text>
<circle class="lc" cx="313.5" cy="740.6" r="6.3"/><text class="n" x="313.5" y="743.1">60</text>
<circle class="lc" cx="333" cy="740.6" r="6.3"/><text class="n" x="333" y="743.1">61</text>
<circle class="lc" cx="416.5" cy="738.4" r="6.3"/><text class="n" x="416.5" y="740.9">62</text>
<circle class="lc" cx="467.6" cy="720.5" r="6.3"/><text class="n" x="467.6" y="723">47</text>
<circle class="lc" cx="466.7" cy="765" r="6.3"/><text class="n" x="466.7" y="767.5">48</text>
<circle class="lc" cx="398.3" cy="803.4" r="6.3"/><text class="n" x="398.3" y="805.9">16</text>
<circle class="lc" cx="599.7" cy="773.6" r="6.3"/><text class="n" x="599.7" y="776.1">11</text>
<circle class="lc" cx="692.2" cy="794.5" r="6.3"/><text class="n" x="692.2" y="797">3</text>
<circle class="lc" cx="750.6" cy="793.4" r="6.3"/><text class="n" x="750.6" y="795.9">2</text>
<circle class="lc" cx="547.3" cy="834.4" r="6.3"/><text class="n" x="547.3" y="836.9">15</text>
<circle class="lc" cx="612.5" cy="834" r="6.3"/><text class="n" x="612.5" y="836.5">13</text>
<circle class="lc" cx="750.6" cy="858" r="6.3"/><text class="n" x="750.6" y="860.5">12</text>
<circle class="lc" cx="601.1" cy="882.6" r="6.3"/><text class="n" x="601.1" y="885.1">14</text>
<circle class="lc" cx="806.2" cy="870" r="6.3"/><text class="n" x="806.2" y="872.5">1</text>
<circle class="lc" cx="887.3" cy="859.5" r="6.3"/><text class="n" x="887.3" y="862">25</text>
<circle class="lc" cx="1413.6" cy="746" r="6.3"/><text class="n" x="1413.6" y="748.5">85</text>
<circle class="lc" cx="1464.7" cy="780.5" r="6.3"/><text class="n" x="1464.7" y="783">83</text>
<circle class="lc" cx="1277.5" cy="816.9" r="6.3"/><text class="n" x="1277.5" y="819.4">87</text>
<circle class="lc" cx="1354.7" cy="816.9" r="6.3"/><text class="n" x="1354.7" y="819.4">86</text>
<circle class="lc" cx="1432.9" cy="816.9" r="6.3"/><text class="n" x="1432.9" y="819.4">84</text>
</g>
</svg>
</body></html>
